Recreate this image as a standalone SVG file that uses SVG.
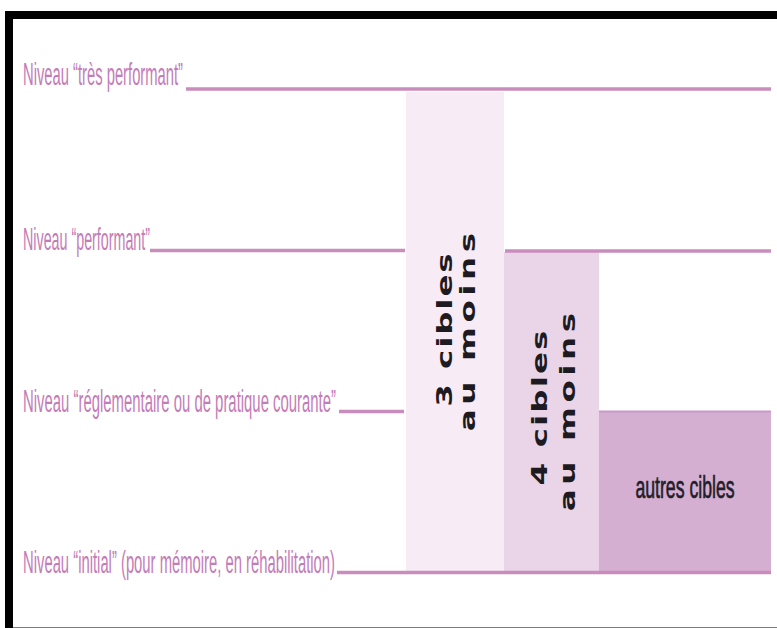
<svg xmlns="http://www.w3.org/2000/svg" width="777" height="628" viewBox="0 0 777 628">
  <style>
    .lvl { font-family: "Liberation Sans", Arial, sans-serif; font-size: 31px; fill: #c47cb7; }
    .rule { stroke: #c98dbd; stroke-width: 3.5; fill: none; }
    .vt { font-family: "DejaVu Sans", Verdana, sans-serif; font-size: 21px; font-weight: bold; fill: #1e1a22; text-anchor: middle; }
    .cap { font-family: "Liberation Sans", Arial, sans-serif; font-size: 31px; fill: #231d28; stroke: #231d28; stroke-width: 0.7; text-anchor: middle; }
  </style>

  <!-- page background and frame -->
  <rect x="0" y="0" width="777" height="628" fill="#ffffff"/>
  <rect x="5" y="11" width="772" height="8" fill="#000000"/>
  <rect x="5" y="11" width="8" height="617" fill="#000000"/>
  <line x1="13" y1="627.5" x2="777" y2="627.5" stroke="#7a7a7a" stroke-width="1"/>

  <!-- target columns -->
  <g id="col-3-cibles">
    <rect x="406" y="92" width="98" height="480" fill="#f7ecf5"/>
    <text class="vt" transform="translate(452,330) rotate(-90) scale(1.55,1)" textLength="99">3 cibles</text>
    <text class="vt" transform="translate(475,332) rotate(-90) scale(1.55,1)" textLength="128">au moins</text>
  </g>
  <g id="col-4-cibles">
    <rect x="504" y="252" width="95" height="320" fill="#e9d5e7"/>
    <text class="vt" transform="translate(547,408) rotate(-90) scale(1.55,1)" textLength="100">4 cibles</text>
    <text class="vt" transform="translate(575,412) rotate(-90) scale(1.55,1)" textLength="128">au moins</text>
  </g>
  <g id="col-autres">
    <rect x="599" y="411" width="172" height="161" fill="#d5afd2"/>
    <line x1="599" y1="411.5" x2="771" y2="411.5" stroke="#c99ac5" stroke-width="2"/>
    <text class="cap" transform="translate(685,498) scale(0.57,1)">autres cibles</text>
  </g>

  <!-- level labels -->
  <g id="niveau-tres-performant">
    <text class="lvl" x="23" y="85" textLength="160" lengthAdjust="spacingAndGlyphs">Niveau “très performant”</text>
  </g>
  <g id="niveau-performant">
    <text class="lvl" x="23" y="250" textLength="127" lengthAdjust="spacingAndGlyphs">Niveau “performant”</text>
  </g>
  <g id="niveau-reglementaire">
    <text class="lvl" x="23" y="412" textLength="313" lengthAdjust="spacingAndGlyphs">Niveau “réglementaire ou de pratique courante”</text>
  </g>
  <g id="niveau-initial">
    <text class="lvl" x="23" y="573" textLength="312" lengthAdjust="spacingAndGlyphs">Niveau “initial” (pour mémoire, en réhabilitation)</text>
  </g>

  <!-- level rules -->
  <g id="connectors">
    <line class="rule" x1="186" y1="89" x2="771" y2="89"/>
    <line class="rule" x1="150" y1="250.5" x2="405" y2="250.5"/>
    <line class="rule" x1="505" y1="251" x2="771" y2="251"/>
    <line class="rule" x1="339" y1="411.5" x2="404" y2="411.5"/>
    <line class="rule" x1="337" y1="572.5" x2="771" y2="572.5"/>
  </g>
</svg>
